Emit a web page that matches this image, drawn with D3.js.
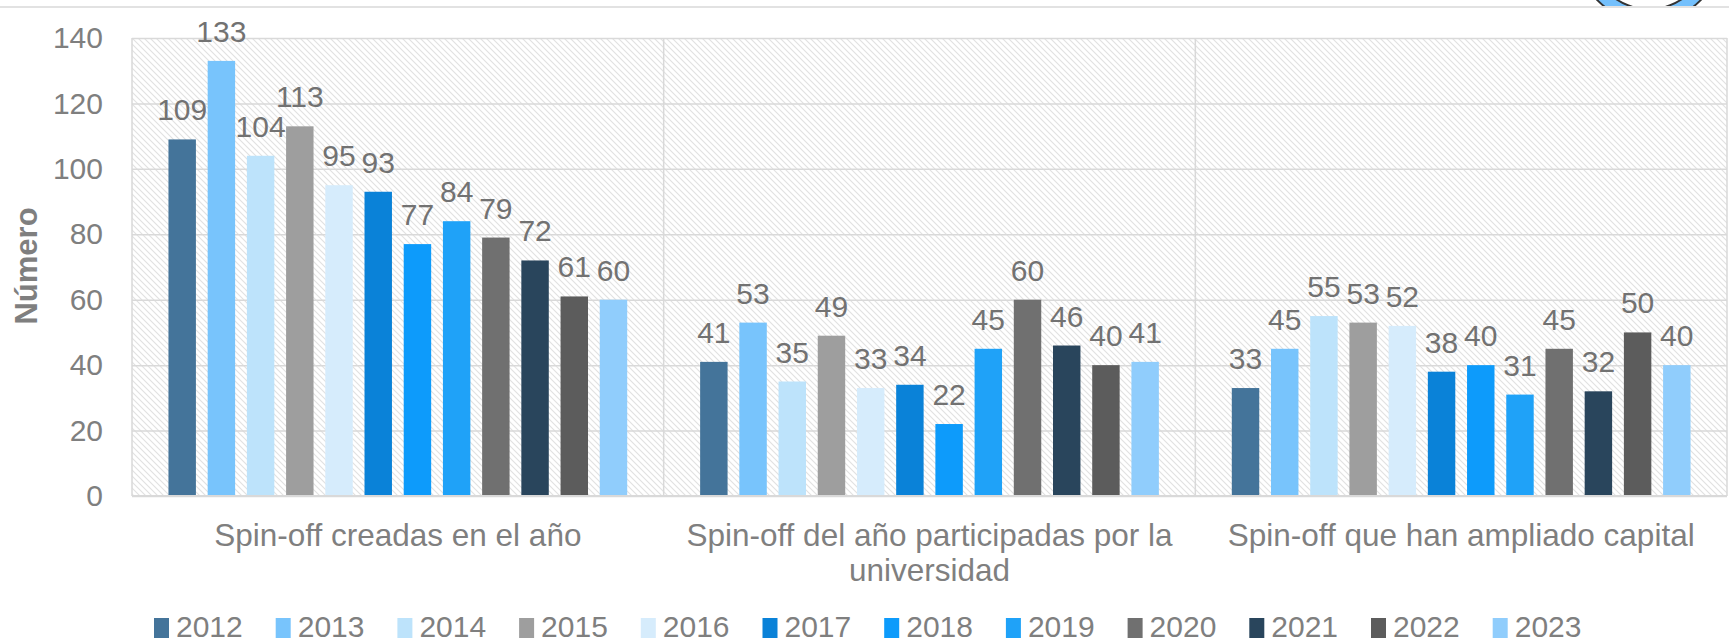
<!DOCTYPE html>
<html>
<head>
<meta charset="utf-8">
<script src="https://cdn.jsdelivr.net/npm/d3@7"></script>
<style>
  html, body { margin: 0; padding: 0; background: #fff; }
  svg { display: block; }
  text { font-family: "Liberation Sans", Arial, sans-serif; }
</style>
</head>
<body>
<svg id="chart" width="1729" height="644"></svg>
<script>
const categories = [
  ["Spin-off creadas en el año"],
  ["Spin-off del año participadas por la", "universidad"],
  ["Spin-off que han ampliado capital"]
];
const years = ["2012","2013","2014","2015","2016","2017","2018","2019","2020","2021","2022","2023"];
const creadas      = [109,133,104,113,95,93,77,84,79,72,61,60];
const participadas = [41,53,35,49,33,34,22,45,60,46,40,41];
const ampliado     = [33,45,55,53,52,38,40,31,45,32,50,40];
const seriesByCategory = [creadas, participadas, ampliado];
const yTicks = [0,20,40,60,80,100,120,140];
const colors = ["#44749a","#78c4fc","#bde3fb","#9e9e9e","#d6ecfc","#0a82d8",
                "#0d9bfb","#1fa2f8","#707070","#29455c","#5c5c5c","#90cdfc"];
const yTitle = "Número";

const svg = d3.select("#chart");
const W = 1729, H = 644;
const plot = {left: 132, top: 38, right: 1727, bottom: 496};
const pw = plot.right - plot.left, ph = plot.bottom - plot.top;

// header decoration
const defs = svg.append("defs");
defs.append("clipPath").attr("id","hdrclip").append("rect")
  .attr("x",0).attr("y",0).attr("width",W).attr("height",7);
const hatch = defs.append("pattern").attr("id","hatch")
  .attr("patternUnits","userSpaceOnUse").attr("width",6).attr("height",6);
hatch.append("rect").attr("width",6).attr("height",6).attr("fill","#ffffff");
hatch.append("path").attr("d","M0,0 L6,6 M-1,5 L1,7 M5,-1 L7,1")
  .attr("stroke","#e1e1e1").attr("stroke-width",1.1);

const hdr = svg.append("g").attr("clip-path","url(#hdrclip)");
hdr.append("circle").attr("cx",1649).attr("cy",-50).attr("r",72)
  .attr("fill","#74c0fc").attr("stroke","#333").attr("stroke-width",2);
hdr.append("circle").attr("cx",1649).attr("cy",-50).attr("r",59)
  .attr("fill","#ffffff").attr("stroke","#333").attr("stroke-width",2);
svg.append("rect").attr("x",0).attr("y",6).attr("width",W).attr("height",2).attr("fill","#e2e2e2");

const g = svg.append("g").attr("transform",`translate(${plot.left},${plot.top})`);

const y = d3.scaleLinear().domain([0,140]).range([ph,0]);
const x0 = d3.scaleBand().domain(d3.range(categories.length)).range([0,pw]).padding(0);
const x1 = d3.scaleBand().domain(years).range([0,x0.bandwidth()]).paddingInner(0.3).paddingOuter(0.93);

// background
g.append("rect").attr("width",pw).attr("height",ph).attr("fill","url(#hatch)");

// gridlines
g.append("g").call(d3.axisLeft(y).tickValues(yTicks).tickSize(-pw).tickFormat(""))
  .call(a => a.select(".domain").remove())
  .call(a => a.selectAll("line").attr("stroke","#d9d9d9").attr("stroke-width",1.5));

// vertical separators + border
const seps = d3.range(categories.length + 1);
g.selectAll(".sep").data(seps).join("line")
  .attr("x1", d => d === categories.length ? pw : x0(d))
  .attr("x2", d => d === categories.length ? pw : x0(d))
  .attr("y1",0).attr("y2",ph).attr("stroke","#d9d9d9").attr("stroke-width",1.5);

// bars
const cg = g.selectAll(".cat").data(seriesByCategory).join("g")
  .attr("transform",(d,i)=>`translate(${x0(i)},0)`);
cg.selectAll("rect").data(d => d.map((v,i)=>({v, yr: years[i], i}))).join("rect")
  .attr("x", d => x1(d.yr)).attr("width", x1.bandwidth())
  .attr("y", d => y(d.v)).attr("height", d => ph - y(d.v))
  .attr("fill", d => colors[d.i]);
cg.selectAll("text").data(d => d.map((v,i)=>({v, yr: years[i]}))).join("text")
  .attr("x", d => x1(d.yr) + x1.bandwidth()/2)
  .attr("y", d => y(d.v) - 19)
  .attr("text-anchor","middle").attr("font-size",30).attr("fill","#727272")
  .text(d => d.v);

// bottom axis line
g.append("line").attr("x1",0).attr("x2",pw).attr("y1",ph).attr("y2",ph)
  .attr("stroke","#d9d9d9").attr("stroke-width",2);

// y axis labels
g.append("g").call(d3.axisLeft(y).tickValues(yTicks).tickSize(0).tickPadding(29))
  .call(a => a.select(".domain").remove())
  .call(a => a.selectAll("text").attr("font-size",30).attr("fill","#7f7f7f")
      .attr("font-family","'Liberation Sans', Arial, sans-serif"));

// category labels
const cl = g.selectAll(".clab").data(categories).join("text")
  .attr("text-anchor","middle").attr("font-size",31.5).attr("fill","#7f7f7f")
  .attr("transform",(d,i)=>`translate(${x0(i)+x0.bandwidth()/2},${546-plot.top})`);
cl.selectAll("tspan").data(d=>d).join("tspan")
  .attr("x",0).attr("dy",(d,i)=> i===0 ? 0 : 35).text(d=>d);

// y title
svg.append("text").attr("transform","translate(37,266) rotate(-90)")
  .attr("text-anchor","middle").attr("font-size",31).attr("font-weight","bold")
  .attr("fill","#7f7f7f").text(yTitle);

// legend
const lg = svg.append("g").attr("transform","translate(154,0)");
const li = lg.selectAll("g").data(years).join("g")
  .attr("transform",(d,i)=>`translate(${i*121.7},0)`);
li.append("rect").attr("x",0).attr("y",618).attr("width",15).attr("height",20)
  .attr("fill",(d,i)=>colors[i]);
li.append("text").attr("x",22).attr("y",637).attr("font-size",30).attr("fill","#7f7f7f").text(d=>d);
</script>
</body>
</html>
